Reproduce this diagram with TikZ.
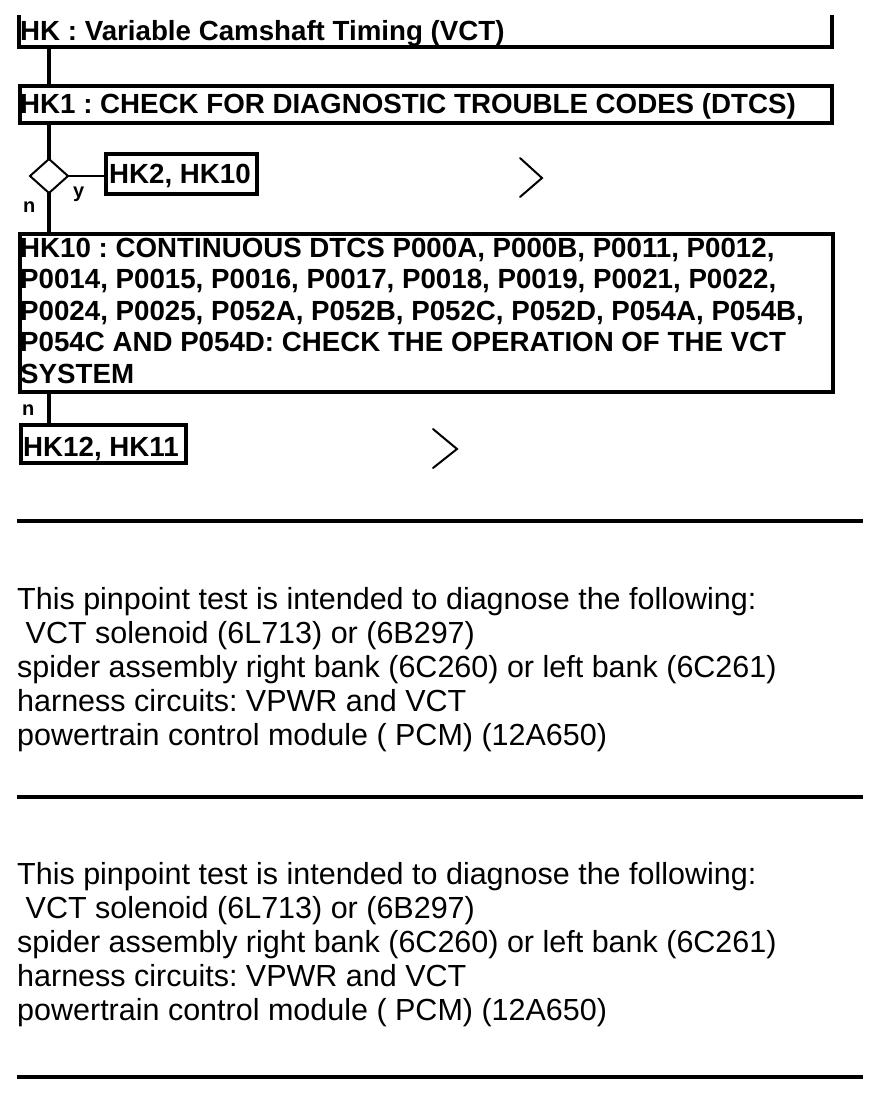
\documentclass[tikz,border=0pt]{standalone}
\usepackage{fontspec}
\setmainfont{Liberation Sans}
\frenchspacing
\usetikzlibrary{shapes.geometric, positioning, calc}

\begin{document}
\begin{tikzpicture}[
        x=1pt, y=-1pt,
        box/.style={draw, line width=4pt, inner sep=0pt, outer sep=0pt, anchor=north west},
        spine/.style={line width=4pt},
        thin/.style={line width=2pt},
        dia/.style={diamond, draw, line width=2pt, inner sep=0pt, outer sep=0pt,
            minimum width=38, minimum height=34},
        boxtxt/.style={anchor=base west, inner sep=0pt, font=\fontsize{27.7}{31.5}\selectfont\bfseries},
        lbl/.style={anchor=base west, inner sep=0pt, font=\fontsize{20}{22}\selectfont\bfseries},
        body/.style={anchor=base west, inner sep=0pt, font=\fontsize{30.5}{34}\selectfont},
        chev/.style={line width=2pt, line cap=round},
        rule/.style={line width=4pt},
    ]
    \useasboundingbox (0,0) rectangle (880,1098);

    %% ---- HK title frame (open at the top) ----
    \node[minimum width=813, minimum height=32, inner sep=0pt, outer sep=0pt, anchor=south west]
        (hk) at (19,47) {};
    \draw[line width=4pt] (hk.north west) -- (hk.south west) -- (hk.south east) -- (hk.north east);
    \node[boxtxt] (hk-txt) at (20,40) {HK : Variable Camshaft Timing (VCT)};

    %% ---- HK1 ----
    \node[box, minimum width=812, minimum height=37] (hk1) at (20,86) {};
    \node[boxtxt] (hk1-txt) at (20,113) {HK1 : CHECK FOR DIAGNOSTIC TROUBLE CODES (DTCS)};

    % decision
    \node[dia] (d1) at (49,176) {};
    \node[box, minimum width=151, minimum height=40] (hk2) at (106,154) {};
    \node[boxtxt] (hk2-txt) at (109,183) {HK2, HK10};
    \node[lbl] (lab-y) at (73,197) {y};
    \node[lbl] (lab-n1) at (23,212) {n};
    \draw[chev] (520,158) -- (542,178) -- (520,197);

    %% ---- HK10 ----
    \node[box, minimum width=813, minimum height=158] (hk10) at (20,234) {};
    \foreach \ln [count=\i] in {
        {HK10 : CONTINUOUS DTCS P000A, P000B, P0011, P0012,},
        {P0014, P0015, P0016, P0017, P0018, P0019, P0021, P0022,},
        {P0024, P0025, P052A, P052B, P052C, P052D, P054A, P054B,},
        {P054C AND P054D: CHECK THE OPERATION OF THE VCT},
        {SYSTEM}
    } { \node[boxtxt] (hk10-l\i) at (20, {257+31.5*(\i-1)}) {\ln}; }

    \node[lbl] (lab-n2) at (22,415) {n};
    \node[box, minimum width=165, minimum height=38] (hk12) at (21,425) {};
    \node[boxtxt] (hk12-txt) at (23,456) {HK12, HK11};
    \draw[chev] (433,429) -- (457,449) -- (433,468);

    % spine
    \draw[spine] (hk.south -| d1) -- (hk1.north -| d1);
    \draw[spine] (hk1.south -| d1) -- (d1.north);
    \draw[spine] (d1.south) -- (hk10.north -| d1);
    \draw[spine] (hk10.south -| d1) -- (hk12.north -| d1);
    \draw[thin] (d1.east) -- (d1.east -| hk2.west);

    %% ---- Notes ----
    \coordinate (r1) at (17,521);
    \coordinate (r2) at (17,797);
    \coordinate (r3) at (17,1077);
    \foreach \r in {r1, r2, r3} {
        \draw[rule] (\r) -- ++(846,0);
    }
    \foreach \b/\by in {a/609, b/884} {
        \foreach \ln [count=\i] in {
            {This pinpoint test is intended to diagnose the following:},
            {\ VCT solenoid (6L713) or (6B297)},
            {spider assembly right bank (6C260) or left bank (6C261)},
            {harness circuits: VPWR and VCT},
            {powertrain control module ( PCM) (12A650)}
        } { \node[body] (note-\b-\i) at (17, {\by+34*(\i-1)}) {\ln}; }
    }

\end{tikzpicture}
\end{document}
